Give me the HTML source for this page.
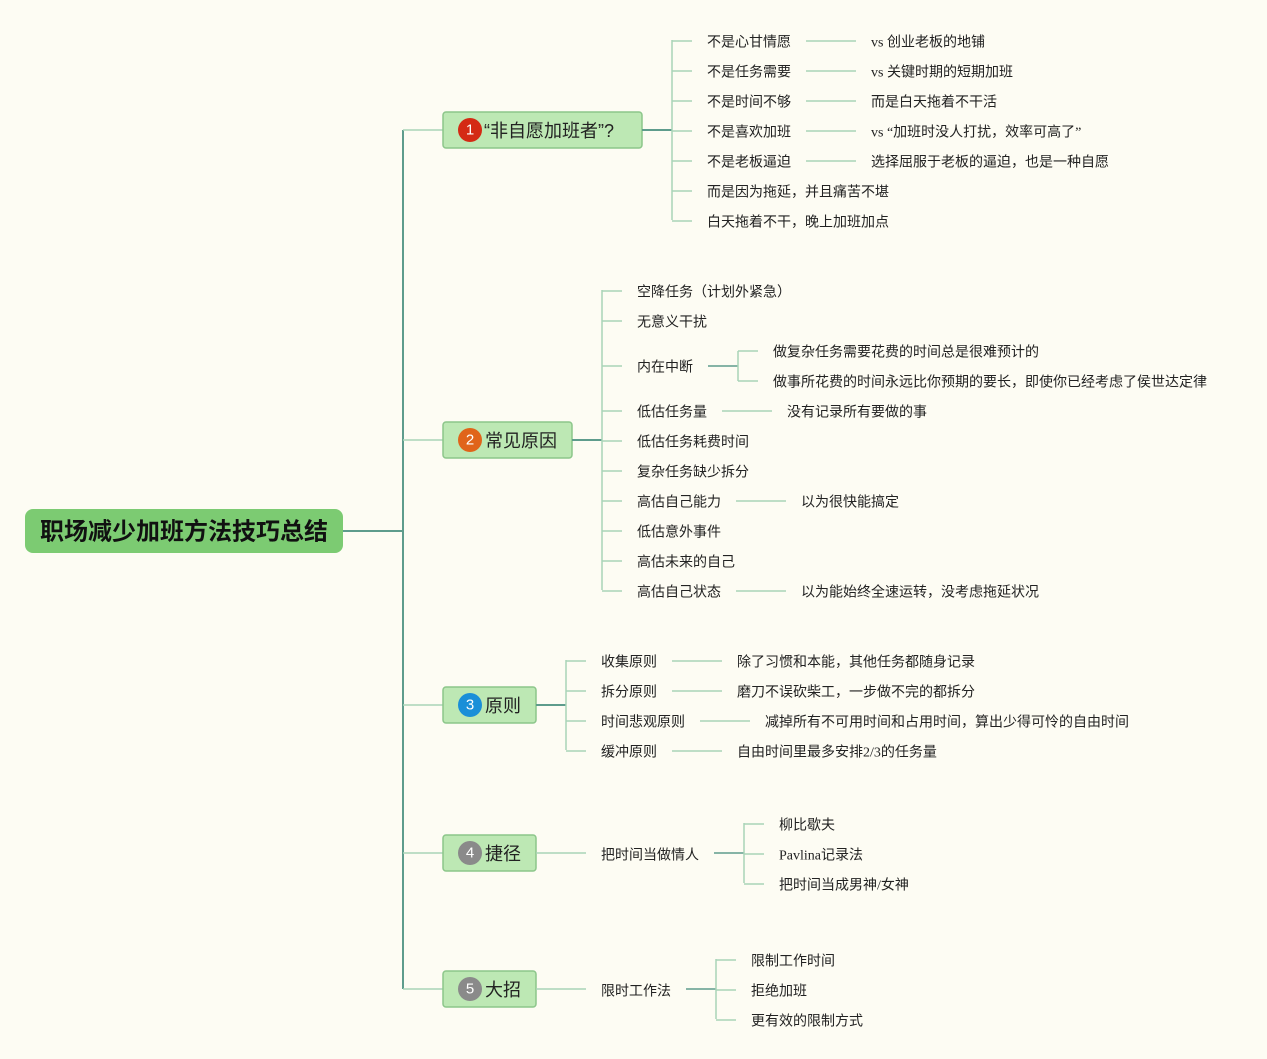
<!DOCTYPE html>
<html><head><meta charset="utf-8">
<style>
html,body{margin:0;padding:0;background:#fdfcf3;}
svg{display:block;}
text{font-family:"Liberation Serif","Noto Sans CJK SC",serif;font-size:14px;fill:#222;dominant-baseline:central;transform:translateY(2px);}
.l{stroke:#a9d3b8;stroke-width:1.5;fill:none;}
.d{stroke:#5e9c8c;stroke-width:2;fill:none;}
.n{fill:#bde8b4;stroke:#8cc68a;stroke-width:1.5;}
.t{font-size:18px;font-family:"Liberation Sans","Noto Sans CJK SC",sans-serif;transform:none;}
.num{font-size:15px;fill:#fff;text-anchor:middle;font-family:"Liberation Sans",sans-serif;transform:none;}
.root{transform:none;}
</style></head><body>
<svg width="1267" height="1059" viewBox="0 0 1267 1059">
<rect width="1267" height="1059" fill="#fdfcf3"/>
<path class="d" d="M343 531 H403"/>
<path class="d" d="M403 130 V989"/>
<path class="l" d="M403 130 H443 M403 440 H443 M403 705 H443 M403 853 H443 M403 989 H443"/>
<rect x="25" y="509" width="318" height="44" rx="8" fill="#7ccb72"/>
<text class="root" x="184" y="532" text-anchor="middle" style="font-family:'Liberation Sans','Noto Sans CJK SC',sans-serif;font-size:24px;font-weight:bold;fill:#111">职场减少加班方法技巧总结</text>

<rect class="n" x="443" y="112" width="199" height="36" rx="3"/>
<circle cx="470" cy="130" r="12" fill="#d42a14"/><text class="num" x="470" y="130">1</text>
<text class="t" x="484" y="131">“非自愿加班者”?</text>
<path class="d" d="M642 130 H672"/>
<path class="l" d="M672 40 V220"/>
<path class="l" d="M672 41 H692 M672 71 H692 M672 101 H692 M672 131 H692 M672 161 H692 M672 191 H692 M672 221 H692"/>
<text x="707" y="41">不是心甘情愿</text>
<text x="707" y="71">不是任务需要</text>
<text x="707" y="101">不是时间不够</text>
<text x="707" y="131">不是喜欢加班</text>
<text x="707" y="161">不是老板逼迫</text>
<text x="707" y="191">而是因为拖延，并且痛苦不堪</text>
<text x="707" y="221">白天拖着不干，晚上加班加点</text>
<path class="l" d="M806 41 H856 M806 71 H856 M806 101 H856 M806 131 H856 M806 161 H856"/>
<text x="871" y="41">vs 创业老板的地铺</text>
<text x="871" y="71">vs 关键时期的短期加班</text>
<text x="871" y="101">而是白天拖着不干活</text>
<text x="871" y="131">vs “加班时没人打扰，效率可高了”</text>
<text x="871" y="161">选择屈服于老板的逼迫，也是一种自愿</text>

<rect class="n" x="443" y="422" width="129" height="36" rx="3"/>
<circle cx="470" cy="440" r="12" fill="#e0641a"/><text class="num" x="470" y="440">2</text>
<text class="t" x="485" y="441">常见原因</text>
<path class="d" d="M572 440 H602"/>
<path class="l" d="M602 290 V590"/>
<path class="l" d="M602 291 H622 M602 321 H622 M602 366 H622 M602 411 H622 M602 441 H622 M602 471 H622 M602 501 H622 M602 531 H622 M602 561 H622 M602 591 H622"/>
<text x="637" y="291">空降任务（计划外紧急）</text>
<text x="637" y="321">无意义干扰</text>
<text x="637" y="366">内在中断</text>
<text x="637" y="411">低估任务量</text>
<text x="637" y="441">低估任务耗费时间</text>
<text x="637" y="471">复杂任务缺少拆分</text>
<text x="637" y="501">高估自己能力</text>
<text x="637" y="531">低估意外事件</text>
<text x="637" y="561">高估未来的自己</text>
<text x="637" y="591">高估自己状态</text>
<path class="d" d="M708 366 H738" style="stroke-width:1.5"/>
<path class="l" d="M738 351 V381 M738 351 H758 M738 381 H758"/>
<text x="773" y="351">做复杂任务需要花费的时间总是很难预计的</text>
<text x="773" y="381">做事所花费的时间永远比你预期的要长，即使你已经考虑了侯世达定律</text>
<path class="l" d="M722 411 H772 M736 501 H786 M736 591 H786"/>
<text x="787" y="411">没有记录所有要做的事</text>
<text x="801" y="501">以为很快能搞定</text>
<text x="801" y="591">以为能始终全速运转，没考虑拖延状况</text>

<rect class="n" x="443" y="687" width="93" height="36" rx="3"/>
<circle cx="470" cy="705" r="12" fill="#1a8fd8"/><text class="num" x="470" y="705">3</text>
<text class="t" x="485" y="706">原则</text>
<path class="d" d="M536 705 H566"/>
<path class="l" d="M566 660 V750 M566 661 H586 M566 691 H586 M566 721 H586 M566 751 H586"/>
<text x="601" y="661">收集原则</text>
<text x="601" y="691">拆分原则</text>
<text x="601" y="721">时间悲观原则</text>
<text x="601" y="751">缓冲原则</text>
<path class="l" d="M672 661 H722 M672 691 H722 M700 721 H750 M672 751 H722"/>
<text x="737" y="661">除了习惯和本能，其他任务都随身记录</text>
<text x="737" y="691">磨刀不误砍柴工，一步做不完的都拆分</text>
<text x="765" y="721">减掉所有不可用时间和占用时间，算出少得可怜的自由时间</text>
<text x="737" y="751">自由时间里最多安排2/3的任务量</text>

<rect class="n" x="443" y="835" width="93" height="36" rx="3"/>
<circle cx="470" cy="853" r="12" fill="#8a8a8a"/><text class="num" x="470" y="853">4</text>
<text class="t" x="485" y="854">捷径</text>
<path class="l" d="M536 853 H586"/>
<text x="601" y="854">把时间当做情人</text>
<path class="d" d="M714 853 H744" style="stroke-width:1.5"/>
<path class="l" d="M744 823 V883 M744 824 H764 M744 854 H764 M744 884 H764"/>
<text x="779" y="824">柳比歇夫</text>
<text x="779" y="854">Pavlina记录法</text>
<text x="779" y="884">把时间当成男神/女神</text>

<rect class="n" x="443" y="971" width="93" height="36" rx="3"/>
<circle cx="470" cy="989" r="12" fill="#8a8a8a"/><text class="num" x="470" y="989">5</text>
<text class="t" x="485" y="990">大招</text>
<path class="l" d="M536 989 H586"/>
<text x="601" y="990">限时工作法</text>
<path class="d" d="M686 989 H716" style="stroke-width:1.5"/>
<path class="l" d="M716 959 V1019 M716 960 H736 M716 990 H736 M716 1020 H736"/>
<text x="751" y="960">限制工作时间</text>
<text x="751" y="990">拒绝加班</text>
<text x="751" y="1020">更有效的限制方式</text>
</svg>
</body></html>
